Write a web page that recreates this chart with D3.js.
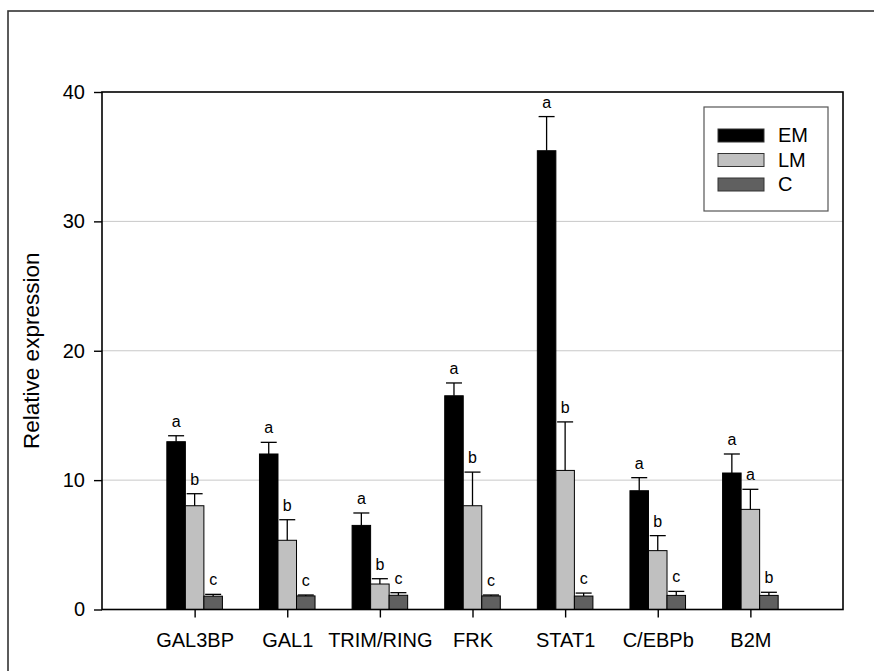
<!DOCTYPE html>
<html>
<head>
<meta charset="utf-8">
<script src="https://cdn.jsdelivr.net/npm/d3@7"></script>
<style>
  html, body { margin: 0; padding: 0; background: #fff; }
  svg { display: block; font-family: "Liberation Sans", Arial, Helvetica, sans-serif; }
</style>
</head>
<body>
<svg id="chart" width="874" height="671"></svg>
<script>
// Gene names along the x axis
const categories = ["GAL3BP", "GAL1", "TRIM/RING", "FRK", "STAT1", "C/EBPb", "B2M"];

// Relative expression (mean) and upper error per group
const emValues = [12.97, 12.02, 6.5, 16.52, 35.46, 9.18, 10.55];
const emErrors = [0.46, 0.9, 0.96, 0.99, 2.64, 1.01, 1.47];
const lmValues = [8.02, 5.35, 1.97, 8.02, 10.75, 4.55, 7.74];
const lmErrors = [0.93, 1.59, 0.41, 2.6, 3.75, 1.16, 1.55];
const cValues = [1.03, 1.05, 1.1, 1.05, 1.04, 1.09, 1.09];
const cErrors = [0.14, 0.07, 0.2, 0.07, 0.23, 0.31, 0.24];

// Significance letters above each bar
const emLetters = ["a", "a", "a", "a", "a", "a", "a"];
const lmLetters = ["b", "b", "b", "b", "b", "b", "a"];
const cLetters = ["c", "c", "c", "c", "c", "c", "b"];

const seriesNames = ["EM", "LM", "C"];
const seriesColors = ["#000000", "#c0c0c0", "#606060"];
const yTicks = [0, 10, 20, 30, 40];

const series = [
  { name: seriesNames[0], color: seriesColors[0], values: emValues, errors: emErrors, letters: emLetters },
  { name: seriesNames[1], color: seriesColors[1], values: lmValues, errors: lmErrors, letters: lmLetters },
  { name: seriesNames[2], color: seriesColors[2], values: cValues, errors: cErrors, letters: cLetters }
];

const svg = d3.select("#chart");
const plot = { left: 102, right: 843, top: 92, bottom: 609.5 };

// Outer frame (runs past the right and bottom edges)
svg.append("rect")
  .attr("x", 8).attr("y", 11)
  .attr("width", 900).attr("height", 700)
  .attr("fill", "none").attr("stroke", "#333").attr("stroke-width", 1.6);

// Category slots: one empty slot before the first gene and after the last
const x = d3.scaleLinear().domain([0, categories.length + 1]).range([plot.left, plot.right]);
const y = d3.scaleLinear().domain([0, 40]).range([plot.bottom, plot.top]);
const slot = x(1) - x(0);
const barW = slot * 0.2;

// Horizontal grid lines
svg.append("g").selectAll("line")
  .data(yTicks.filter(t => t > 0 && t < 40))
  .join("line")
  .attr("x1", plot.left).attr("x2", plot.right)
  .attr("y1", d => y(d)).attr("y2", d => y(d))
  .attr("stroke", "#c8c8c8").attr("stroke-width", 1);

// Bars, error bars and letters
series.forEach((s, si) => {
  const g = svg.append("g");
  s.values.forEach((v, i) => {
    const cx = x(i + 1) + (si - 1) * barW;
    g.append("rect")
      .attr("x", cx - barW / 2).attr("y", y(v))
      .attr("width", barW).attr("height", y(0) - y(v))
      .attr("fill", s.color).attr("stroke", "#000").attr("stroke-width", 1);
    const top = v + s.errors[i];
    g.append("line")
      .attr("x1", cx).attr("x2", cx)
      .attr("y1", y(v)).attr("y2", y(top))
      .attr("stroke", "#000").attr("stroke-width", 1.3);
    g.append("line")
      .attr("x1", cx - 8).attr("x2", cx + 8)
      .attr("y1", y(top)).attr("y2", y(top))
      .attr("stroke", "#000").attr("stroke-width", 1.3);
    g.append("text")
      .attr("x", cx).attr("y", y(top) - 9)
      .attr("text-anchor", "middle")
      .attr("font-size", 16).attr("fill", "#000")
      .text(s.letters[i]);
  });
});

// Plot frame
svg.append("rect")
  .attr("x", plot.left).attr("y", plot.top)
  .attr("width", plot.right - plot.left).attr("height", plot.bottom - plot.top)
  .attr("fill", "none").attr("stroke", "#000").attr("stroke-width", 1.6);

// Y axis
const yAxis = svg.append("g")
  .attr("transform", `translate(${plot.left},0)`)
  .call(d3.axisLeft(y).tickValues(yTicks).tickSize(8).tickPadding(9).tickFormat(d3.format("d")));
yAxis.select(".domain").remove();
yAxis.selectAll(".tick line").attr("stroke", "#000").attr("stroke-width", 1.4);
yAxis.selectAll(".tick text").attr("font-size", 20).attr("fill", "#000")
  .attr("font-family", "'Liberation Sans', Arial, sans-serif");

// X axis
const xAxis = svg.append("g")
  .attr("transform", `translate(0,${plot.bottom})`)
  .call(d3.axisBottom(x).tickValues(categories.map((c, i) => i + 1))
    .tickSize(8).tickPadding(15).tickFormat(d => categories[d - 1]));
xAxis.select(".domain").remove();
xAxis.selectAll(".tick line").attr("stroke", "#000").attr("stroke-width", 1.4);
xAxis.selectAll(".tick text").attr("font-size", 20).attr("fill", "#000")
  .attr("font-family", "'Liberation Sans', Arial, sans-serif");

// Y axis title
svg.append("text")
  .attr("transform", `translate(39,${(plot.top + plot.bottom) / 2}) rotate(-90)`)
  .attr("text-anchor", "middle")
  .attr("font-size", 22.5).attr("fill", "#000")
  .text("Relative expression");

// Legend
const legend = svg.append("g");
legend.append("rect")
  .attr("x", 704).attr("y", 107)
  .attr("width", 124).attr("height", 104)
  .attr("fill", "#fff").attr("stroke", "#555").attr("stroke-width", 1.2);
series.forEach((s, si) => {
  const ly = 129 + si * 24.5;
  legend.append("rect")
    .attr("x", 718).attr("y", ly)
    .attr("width", 46).attr("height", 13)
    .attr("fill", s.color).attr("stroke", "#333").attr("stroke-width", 1);
  legend.append("text")
    .attr("x", 778).attr("y", ly + 13)
    .attr("font-size", 20).attr("fill", "#000")
    .text(s.name);
});
</script>
</body>
</html>
